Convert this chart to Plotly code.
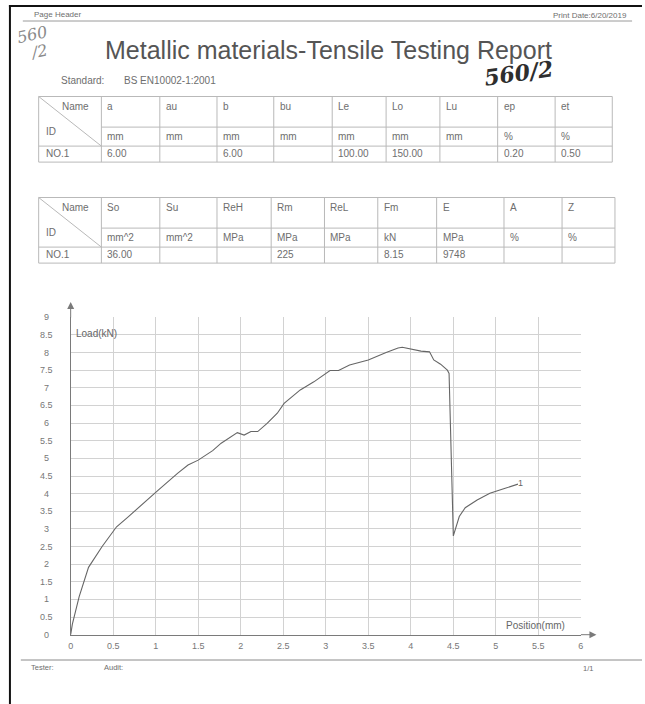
import plotly.graph_objects as go

W, H = 645, 704

# ---------------- data ----------------
position_mm = [0.00, 0.02, 0.10, 0.21, 0.37, 0.54, 0.68, 0.87, 1.03, 1.26, 1.38, 1.50,
               1.67, 1.77, 1.96, 2.04, 2.12, 2.20, 2.31, 2.43, 2.51, 2.70, 2.86, 3.05,
               3.15, 3.28, 3.50, 3.71, 3.85, 3.90, 4.02, 4.12, 4.22, 4.27, 4.35, 4.43,
               4.45, 4.50, 4.57, 4.64, 4.78, 4.93, 5.11, 5.26]
load_kN = [0.00, 0.30, 1.08, 1.91, 2.50, 3.06, 3.35, 3.77, 4.10, 4.58, 4.81, 4.95,
           5.22, 5.43, 5.73, 5.66, 5.76, 5.76, 5.99, 6.28, 6.56, 6.94, 7.17, 7.49,
           7.49, 7.65, 7.79, 8.00, 8.13, 8.15, 8.09, 8.04, 8.02, 7.79, 7.67, 7.50,
           7.41, 2.80, 3.35, 3.60, 3.82, 4.01, 4.15, 4.27]
curve_label = "1"

x_ticks = [0, 0.5, 1, 1.5, 2, 2.5, 3, 3.5, 4, 4.5, 5, 5.5, 6]
y_ticks = [0, 0.5, 1, 1.5, 2, 2.5, 3, 3.5, 4, 4.5, 5, 5.5, 6, 6.5, 7, 7.5, 8, 8.5, 9]

table1_names = ["a", "au", "b", "bu", "Le", "Lo", "Lu", "ep", "et"]
table1_units = ["mm", "mm", "mm", "mm", "mm", "mm", "mm", "%", "%"]
table1_values = ["6.00", "", "6.00", "", "100.00", "150.00", "", "0.20", "0.50"]

table2_names = ["So", "Su", "ReH", "Rm", "ReL", "Fm", "E", "A", "Z"]
table2_units = ["mm^2", "mm^2", "MPa", "MPa", "MPa", "kN", "MPa", "%", "%"]
table2_values = ["36.00", "", "", "225", "", "8.15", "9748", "", ""]

title_text = "Metallic materials-Tensile Testing Report"
standard_text = "BS EN10002-1:2001"

# ---------------- helpers ----------------
def px(x):
    return x / W

def py(y):
    return 1 - y / H

FONT = "Liberation Sans, Arial, sans-serif"
TXT = "#6e6e6e"
shapes = []
annotations = []

def hline(x0, x1, y, color="#b9b9b9", width=1):
    shapes.append(dict(type="line", xref="paper", yref="paper", x0=px(x0), x1=px(x1),
                       y0=py(y), y1=py(y), line=dict(color=color, width=width)))

def vline(x, y0, y1, color="#b9b9b9", width=1):
    shapes.append(dict(type="line", xref="paper", yref="paper", x0=px(x), x1=px(x),
                       y0=py(y0), y1=py(y1), line=dict(color=color, width=width)))

def text(x, y, s, size=10, color=TXT, xanchor="left", yanchor="middle", **kw):
    annotations.append(dict(x=px(x), y=py(y), xref="paper", yref="paper", text=s,
                            showarrow=False, xanchor=xanchor, yanchor=yanchor,
                            font=dict(family=kw.pop("family", FONT), size=size, color=color,
                                      **kw.pop("fontkw", {})), **kw))

def table(top, cols, names, units, values):
    r1 = top + 30.6
    r2 = r1 + 19.0
    bot = r2 + 16.0
    left, right = cols[0], cols[-1]
    hline(left, right, top)
    hline(cols[1], right, r1)
    hline(left, right, r2)
    hline(left, right, bot)
    for c in cols:
        vline(c, top, bot)
    shapes.append(dict(type="line", xref="paper", yref="paper", x0=px(left), y0=py(top),
                       x1=px(cols[1]), y1=py(r2), line=dict(color="#b9b9b9", width=1)))
    text(cols[1] - 10, top + 10, "Name", xanchor="right")
    text(left + 5, r1 + 4, "ID")
    text(left + 5, r2 + 7, "NO.1")
    for i in range(len(names)):
        text(cols[i + 1] + 4, top + 10, names[i])
        text(cols[i + 1] + 4, r1 + 9, units[i])
        text(cols[i + 1] + 4, r2 + 7, values[i])

# ---------------- page decorations ----------------
# scan edges
vline(7, 5, 704, color="#111111", width=2)
hline(6, 645, 6, color="#111111", width=2)
# header
text(29, 14, "Page Header", size=8)
text(632, 15, "Print Date:6/20/2019", size=8, xanchor="right")
hline(20, 635, 21, color="#9a9a9a", width=1)
# title
text(329, 50, title_text, size=25, color="#555555", xanchor="center")
text(57, 81, "Standard:", size=10)
text(120, 81, standard_text, size=10)
# handwriting
text(30, 35, "560", size=16, color="#8a8a8a", xanchor="center",
     family="DejaVu Serif", fontkw=dict(style="italic"), textangle=-12)
text(36, 52, "/2", size=16, color="#8a8a8a", xanchor="center",
     family="DejaVu Serif", fontkw=dict(style="italic"), textangle=-12)
text(520, 73, "560/2", size=22, color="#2e2e2e", xanchor="center",
     family="DejaVu Serif", fontkw=dict(style="italic", weight="bold"), textangle=-8)

# tables
table(96.5, [36, 99.3, 158.3, 216, 273.3, 332.3, 386.7, 441, 499.3, 557.3, 615],
      table1_names, table1_units, table1_values)
table(197.5, [36, 99.3, 158.3, 216, 270.7, 324.5, 378.3, 437.7, 505.7, 564.3, 617.7],
      table2_names, table2_units, table2_values)

# footer
hline(18, 645, 660, color="#8a8a8a", width=1)
text(26, 667, "Tester:", size=7.5)
text(100, 667, "Audit:", size=7.5)
text(598, 668, "1/1", size=7.5, xanchor="right")

# ---------------- chart ----------------
X0, X1 = 68.3, 583.3
Y0, Y1 = 634.7, 317.3

fig = go.Figure()
fig.add_trace(go.Scatter(x=position_mm, y=load_kN, mode="lines",
                         line=dict(color="#666666", width=1.1), hoverinfo="skip",
                         showlegend=False, cliponaxis=False))
fig.add_trace(go.Scatter(x=[position_mm[-1]], y=[load_kN[-1]], mode="text",
                         text=[curve_label], textposition="middle right",
                         textfont=dict(family=FONT, size=9, color="#666666"),
                         showlegend=False, hoverinfo="skip"))

# y tick labels centered to the left of the axis
for v in y_ticks:
    annotations.append(dict(x=px(44), y=v, xref="paper", yref="y",
                            text=("%g" % v), showarrow=False, xanchor="center",
                            yanchor="middle",
                            font=dict(family=FONT, size=9, color="#777777")))

# axis arrows
annotations.append(dict(x=px(68.3), y=py(302), xref="paper", yref="paper", ax=0, ay=17,
                        text="", showarrow=True, arrowhead=2, arrowsize=1.4,
                        arrowwidth=1, arrowcolor="#7a7a7a"))
annotations.append(dict(x=px(599), y=py(634.7), xref="paper", yref="paper", ax=-17, ay=0,
                        text="", showarrow=True, arrowhead=2, arrowsize=1.4,
                        arrowwidth=1, arrowcolor="#7a7a7a"))
# axis titles
text(72, 333, "Load(kN)", size=10, color="#666666")
text(506, 625, "Position(mm)", size=10, color="#666666")

fig.update_layout(
    width=W, height=H, margin=dict(l=0, r=0, t=0, b=0),
    paper_bgcolor="white", plot_bgcolor="white",
    font=dict(family=FONT, color=TXT),
    shapes=shapes, annotations=annotations,
    xaxis=dict(domain=[px(X0), px(X1)], range=[0, 6], tickvals=x_ticks,
               ticktext=["%g" % v for v in x_ticks],
               showgrid=True, gridcolor="#d2d2d2", gridwidth=1, zeroline=False,
               showline=True, linecolor="#7a7a7a", linewidth=1, ticks="",
               tickfont=dict(family=FONT, size=9, color="#777777"),
               ticklabelstandoff=2, fixedrange=True),
    yaxis=dict(domain=[py(Y0), py(Y1)], range=[0, 9], tickvals=y_ticks,
               showticklabels=False,
               showgrid=True, gridcolor="#d2d2d2", gridwidth=1, zeroline=False,
               showline=True, linecolor="#7a7a7a", linewidth=1, ticks="",
               fixedrange=True),
)

fig.write_html("out.html", config={"displayModeBar": False},
               post_script="document.body.style.margin='0';")
